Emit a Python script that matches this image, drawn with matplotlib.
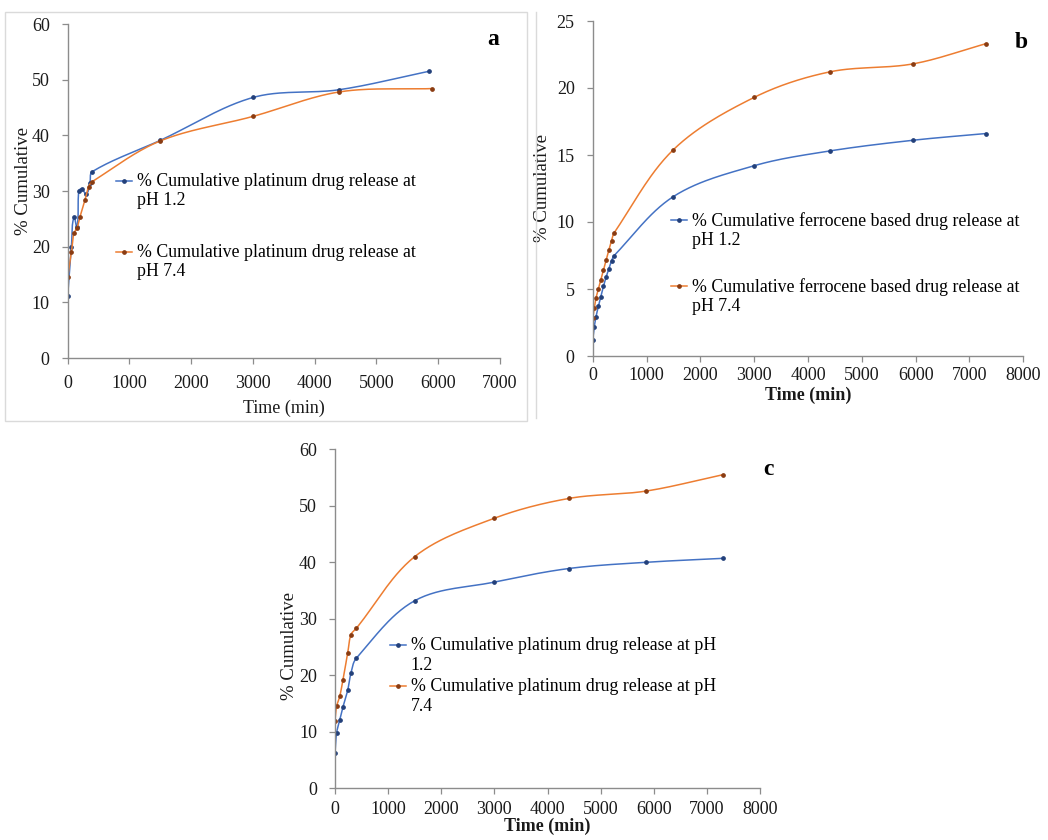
import numpy as np
import matplotlib
matplotlib.use("Agg")
import matplotlib.pyplot as plt
from matplotlib.legend_handler import HandlerLine2D
from matplotlib.lines import Line2D

plt.rcParams['font.family'] = ['Liberation Serif', 'DejaVu Serif']

# ---- data ----
# panel a: platinum drug
a_t_12 = [0, 60, 100, 150, 180, 230, 300, 360, 400, 1500, 3000, 4400, 5850]
a_y_12 = [11.2, 20.0, 25.3, 23.5, 30.0, 30.4, 29.5, 31.5, 33.5, 39.1, 46.8, 48.2, 51.5]
a_t_74 = [0, 60, 100, 150, 200, 280, 340, 400, 1500, 3000, 4400, 5900]
a_y_74 = [14.5, 19.0, 22.4, 23.3, 25.4, 28.4, 30.8, 31.7, 39.0, 43.4, 47.8, 48.4]

# panel b: ferrocene based drug
b_t = [0, 30, 60, 105, 150, 200, 250, 300, 350, 400, 1500, 3000, 4400, 5950, 7300]
b_y_12 = [1.2, 2.2, 2.9, 3.7, 4.4, 5.2, 5.9, 6.5, 7.1, 7.5, 11.9, 14.2, 15.3, 16.1, 16.6]
b_y_74 = [2.8, 3.6, 4.3, 5.0, 5.7, 6.4, 7.2, 7.9, 8.6, 9.2, 15.4, 19.3, 21.2, 21.8, 23.3]

# panel c: platinum drug
c_t = [0, 30, 90, 150, 240, 300, 400, 1500, 3000, 4400, 5850, 7300]
c_y_12 = [6.2, 9.8, 12.1, 14.4, 17.4, 20.4, 23.0, 33.2, 36.5, 38.9, 40.0, 40.7]
c_y_74 = [12.0, 14.5, 16.3, 19.2, 24.0, 27.2, 28.3, 41.0, 47.8, 51.3, 52.6, 55.5]

lab_a = ["% Cumulative platinum drug release at\npH 1.2",
         "% Cumulative platinum drug release at\npH 7.4"]
lab_b = ["% Cumulative ferrocene based drug release at\npH 1.2",
         "% Cumulative ferrocene based drug release at\npH 7.4"]
lab_c = ["% Cumulative platinum drug release at pH\n1.2",
         "% Cumulative platinum drug release at pH\n7.4"]

BLUE = '#4472C4'
ORANGE = '#ED7D31'
BLUE_M = '#23407a'
ORANGE_M = '#8a3c12'
GREY = '#8c8c8c'

W, H = 1048, 840


def smooth(x, y, sx, sy, n=30):
    # Excel-like smoothed line through the points (screen space bezier)
    P = np.column_stack([np.asarray(x, float) * sx, np.asarray(y, float) * sy])
    m = len(P)
    T = np.zeros_like(P)
    for i in range(m):
        d = P[min(i + 1, m - 1)] - P[max(i - 1, 0)]
        T[i] = d / np.linalg.norm(d)
    t = np.linspace(0, 1, n)[:, None]
    segs = []
    for i in range(m - 1):
        L = np.linalg.norm(P[i + 1] - P[i])
        b1 = P[i] + T[i] * L / 3
        b2 = P[i + 1] - T[i + 1] * L / 3
        seg = ((1 - t) ** 3) * P[i] + 3 * ((1 - t) ** 2) * t * b1 \
            + 3 * (1 - t) * t ** 2 * b2 + t ** 3 * P[i + 1]
        segs.append(seg)
    S = np.vstack(segs)
    return S[:, 0] / sx, S[:, 1] / sy


class FirstLineHandler(HandlerLine2D):
    # put the legend key next to the first line of a two-line label
    def create_artists(self, legend, orig_handle, xdescent, ydescent,
                       width, height, fontsize, trans):
        arts = super().create_artists(legend, orig_handle, xdescent, ydescent,
                                      width, height, fontsize, trans)
        for a in arts:
            a.set_ydata(np.asarray(a.get_ydata()) + 0.6 * fontsize)
        return arts


def panel(rect_px, xmax, ymax, ystep, series, labels, letter, letter_pos,
          leg_anchor, leg_space, xlab_bold, xpad, xlabpad, ylab_xy):
    x0, y0, x1, y1 = rect_px
    ax = fig.add_axes([x0 / W, 1 - y1 / H, (x1 - x0) / W, (y1 - y0) / H])
    sx = (x1 - x0) / xmax
    sy = (y1 - y0) / ymax
    handles = []
    for (t, y, c, mc) in series:
        xs, ys = smooth(t, y, sx, sy)
        ax.plot(xs, ys, color=c, lw=1.1, solid_capstyle='round')
        ax.plot(t, y, ls='none', marker='o', ms=2.4, mfc=mc, mec=mc)
        handles.append(Line2D([], [], color=c, lw=1.1, marker='o', ms=2.4,
                              mfc=mc, mec=mc))
    ax.set_xlim(0, xmax)
    ax.set_ylim(0, ymax)
    ax.set_xticks(np.arange(0, xmax + 1, 1000))
    ax.set_yticks(np.arange(0, ymax + 0.1, ystep))
    for s in ['top', 'right']:
        ax.spines[s].set_visible(False)
    for s in ['left', 'bottom']:
        ax.spines[s].set_color(GREY)
        ax.spines[s].set_linewidth(1.0)
    ax.tick_params(labelsize=13, length=4, width=0.9, color=GREY,
                   direction='out', labelcolor='#1a1a1a')
    ax.tick_params(axis='y', pad=9)
    ax.tick_params(axis='x', pad=xpad)
    ax.set_xlabel('Time (min)', fontsize=13, labelpad=xlabpad,
                  fontweight='bold' if xlab_bold else 'normal', color='#1a1a1a')
    ax.set_ylabel('% Cumulative', fontsize=13.5, color='#1a1a1a')
    ax.yaxis.set_label_coords(*ylab_xy)
    ax.text(letter_pos[0], letter_pos[1], letter, transform=ax.transAxes,
            fontsize=17, fontweight='bold', ha='center', va='center')
    ax.legend(handles, labels, loc='upper left', bbox_to_anchor=leg_anchor,
              frameon=False, fontsize=12.8, handlelength=0.9, handletextpad=0.25,
              borderpad=0, borderaxespad=0, labelspacing=leg_space,
              handler_map={Line2D: FirstLineHandler(numpoints=1)})
    return ax


fig = plt.figure(figsize=(W / 100, H / 100), dpi=100)

# light frames around the top panels
fig.patches.append(plt.Rectangle((5 / W, 1 - 421 / H), 522 / W, 409 / H,
                                 transform=fig.transFigure, fill=False,
                                 ec='#dadada', lw=1.0))
fig.lines.append(Line2D([536 / W, 536 / W], [1 - 418 / H, 1 - 12 / H],
                        transform=fig.transFigure, color='#dadada', lw=1.0))

panel((67.7, 24, 500, 358), 7000, 60, 10,
      [(a_t_12, a_y_12, BLUE, BLUE_M), (a_t_74, a_y_74, ORANGE, ORANGE_M)],
      lab_a, 'a', (0.985, 0.955), (0.112, 0.555), 1.95, False, 8, 6,
      (-0.083, 0.53))

panel((592.7, 21, 1023.3, 356), 8000, 25, 5,
      [(b_t, b_y_12, BLUE, BLUE_M), (b_t, b_y_74, ORANGE, ORANGE_M)],
      lab_b, 'b', (0.995, 0.935), (0.183, 0.43), 1.6, True, 4, 2,
      (-0.096, 0.5))

panel((335, 449.3, 760, 788.3), 8000, 60, 10,
      [(c_t, c_y_12, BLUE, BLUE_M), (c_t, c_y_74, ORANGE, ORANGE_M)],
      lab_c, 'c', (1.02, 0.94), (0.13, 0.445), 0.25, True, 5, 0,
      (-0.087, 0.42))

fig.savefig('out.png', dpi=100, facecolor='white')
